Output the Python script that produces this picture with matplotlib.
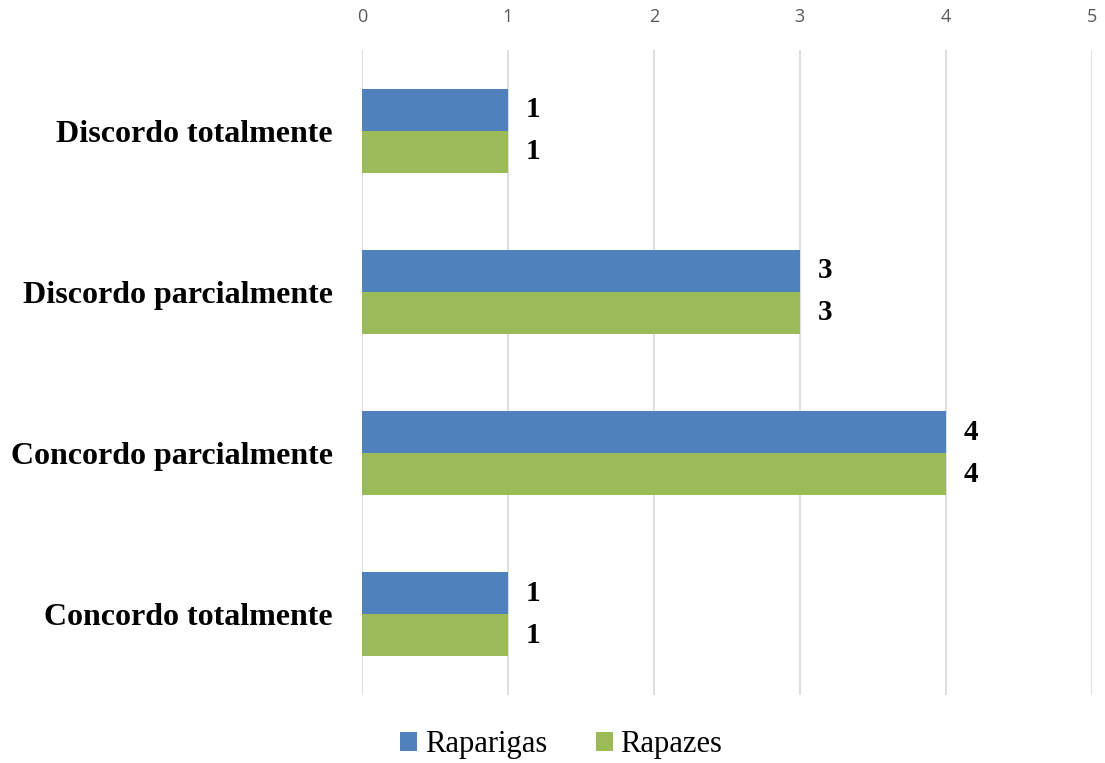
import matplotlib
matplotlib.use('Agg')
import matplotlib.pyplot as plt
import numpy as np

categories = ['Discordo totalmente', 'Discordo parcialmente', 'Concordo parcialmente', 'Concordo totalmente']
raparigas = [1, 3, 4, 1]
rapazes = [1, 3, 4, 1]
series_names = ['Raparigas', 'Rapazes']
colors = ['#4f81bd', '#9bbb59']

fig = plt.figure(figsize=(11.05, 7.63), dpi=100)
ax = fig.add_axes([0.3276, 0.0891, 0.988 - 0.3276, 0.8454])

y = np.arange(len(categories))
h = 0.26
bars1 = ax.barh(y - h / 2, raparigas, height=h, color=colors[0], label=series_names[0], zorder=3)
bars2 = ax.barh(y + h / 2, rapazes, height=h, color=colors[1], label=series_names[1], zorder=3)

for bars in (bars1, bars2):
    for b in bars:
        ax.text(b.get_width() + 0.12, b.get_y() + b.get_height() / 2, str(int(b.get_width())),
                va='center', ha='left', fontsize=21, fontweight='bold', family='Liberation Serif')

ax.set_xlim(0, 5)
ax.set_ylim(len(categories) - 0.5, -0.5)
ax.set_yticks(y)
ax.set_yticklabels(categories, fontsize=23, fontweight='bold', family='Liberation Serif')
ax.tick_params(axis='y', length=0, pad=21)
ax.xaxis.tick_top()
ax.set_xticks(range(6))
ax.tick_params(axis='x', length=0, pad=17, labelsize=13, labelcolor='#595959')
for lab in ax.get_xticklabels():
    lab.set_family('Open Sans')
ax.grid(axis='x', color='#d9d9d9', linewidth=1.2, zorder=0)
for s in ax.spines.values():
    s.set_visible(False)

leg = fig.legend(loc='center', bbox_to_anchor=(0.508, 0.024), ncol=2, frameon=False,
                 prop={'family': 'Liberation Serif', 'size': 22}, handlelength=0.55, handleheight=0.55,
                 handletextpad=0.25, columnspacing=1.6)

fig.savefig('out.png', dpi=100)
